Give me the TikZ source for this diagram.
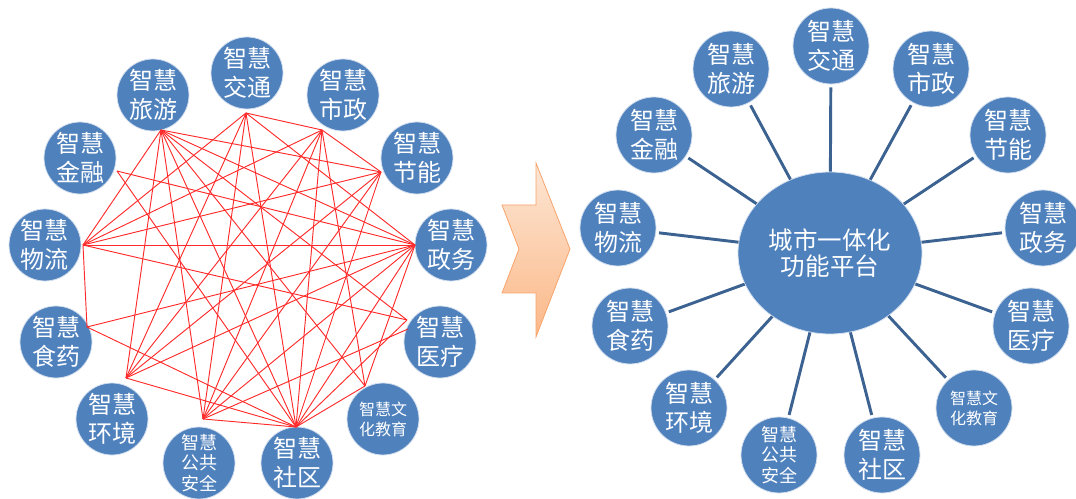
\documentclass[tikz,border=0pt]{standalone}
\usepackage{fontspec}
\newfontfamily\cjk{Noto Sans CJK SC}
\usetikzlibrary{shapes.geometric}
\definecolor{ballblue}{HTML}{4F81BD}
\definecolor{spokeblue}{HTML}{3B6291}
\definecolor{webred}{HTML}{FF2A2A}
\definecolor{arrowedge}{HTML}{F7A46C}
\definecolor{arrowtop}{HTML}{FDE6D4}
\definecolor{arrowbot}{HTML}{FBB888}
\tikzset{
  ball/.style={circle, fill=ballblue, draw=white!75!ballblue, line width=0.6pt,
    minimum size=54pt, inner sep=0pt, text=white, align=center,
    font=\cjk\fontsize{18}{21.5}\selectfont},
  bigball/.style={ball, minimum size=57pt, outer sep=2.5pt},
  smallfont/.style={font=\cjk\fontsize{13.5}{15.5}\selectfont},
  tinyfont/.style={font=\cjk\fontsize{12}{15}\selectfont},
  hub/.style={ellipse, fill=ballblue, draw=white!75!ballblue, line width=0.6pt,
    minimum width=138pt, minimum height=121.5pt, inner sep=0pt, text=white,
    align=center, font=\cjk\fontsize{18.4}{20}\selectfont},
  spoke/.style={draw=spokeblue, line width=2.2pt},
  web/.style={draw=webred, line width=0.7pt}
}
\begin{document}
\begin{tikzpicture}[x=0.75pt, y=-0.75pt]
\useasboundingbox (0,0) rectangle (1076,499);

% left: every field wired to the others
\node[ball] (jiaotong) at (247,73) {智慧\\交通};
\node[ball] (lvyou) at (153,95) {智慧\\旅游};
\node[ball] (shizheng) at (343,95) {智慧\\市政};
\node[ball] (jinrong) at (80,158) {智慧\\金融};
\node[ball] (jieneng) at (417,158) {智慧\\节能};
\node[ball] (wuliu) at (45,245) {智慧\\物流};
\node[ball] (zhengwu) at (451,245) {智慧\\政务};
\node[ball] (shiyao) at (56,342) {智慧\\食药};
\node[ball] (yiliao) at (440,342) {智慧\\医疗};
\node[ball] (huanjing) at (112,419) {智慧\\环境};
\node[ball, tinyfont] (wenhua) at (383,419) {智慧文\\化教育};
\node[ball, smallfont] (gonggong) at (199,463) {智慧\\公共\\安全};
\node[ball] (shequ) at (297,463) {智慧\\社区};

\coordinate (lvyou-p) at (161,130);
\coordinate (jiaotong-p) at (246,113);
\coordinate (shizheng-p) at (322,130);
\coordinate (jinrong-p) at (117,171);
\coordinate (jieneng-p) at (381,172);
\coordinate (wuliu-p) at (83,245);
\coordinate (zhengwu-p) at (415,245);
\coordinate (shiyao-p) at (87,327);
\coordinate (yiliao-p) at (407,320);
\coordinate (yiliao-q) at (408,329);
\coordinate (huanjing-p) at (126,378);
\coordinate (wenhua-p) at (365,386);
\coordinate (gonggong-p) at (203,419);
\coordinate (shequ-p) at (296,427);

\foreach \a/\b in {lvyou/jieneng, lvyou/zhengwu, lvyou/yiliao, lvyou/wenhua,
    lvyou/shequ, lvyou/gonggong, lvyou/huanjing, lvyou/wuliu,
    jiaotong/shizheng, jiaotong/wuliu, jiaotong/gonggong, jiaotong/shequ,
    jiaotong/zhengwu, jiaotong/huanjing,
    shizheng/jieneng, shizheng/wuliu, shizheng/gonggong, shizheng/shequ,
    shizheng/huanjing, shizheng/wenhua,
    jinrong/zhengwu, jinrong/shequ,
    jieneng/wuliu, jieneng/huanjing, jieneng/gonggong, jieneng/shequ,
    wuliu/zhengwu, wuliu/shiyao, wuliu/yiliao,
    zhengwu/shiyao, zhengwu/huanjing, zhengwu/gonggong, zhengwu/shequ,
    zhengwu/wenhua, shiyao/shequ, yiliao/shequ, huanjing/shequ,
    wenhua/shequ, gonggong/shequ}
  \draw[web] (\a-p) -- (\b-p);
\draw[web] (gonggong-p) -- (yiliao-q);

% arrow
\shadedraw[top color=arrowtop, bottom color=arrowbot, draw=arrowedge, line width=0.6pt]
  (536,163) -- (570,249) -- (536,337) -- (536,293) -- (502,293) -- (519,249)
  -- (502,205) -- (536,205) -- cycle;

% right: one platform in the middle
\node[hub] (hub) at (830,253) {城市一体化\\功能平台};
\node[bigball] (r-jiaotong) at (831,46) {智慧\\交通};
\node[bigball] (r-lvyou) at (731,69) {智慧\\旅游};
\node[bigball] (r-shizheng) at (931,69) {智慧\\市政};
\node[bigball] (r-jinrong) at (654,135) {智慧\\金融};
\node[bigball] (r-jieneng) at (1008,135) {智慧\\节能};
\node[bigball] (r-wuliu) at (618,228) {智慧\\物流};
\node[bigball] (r-zhengwu) at (1043,228) {智慧\\政务};
\node[bigball] (r-shiyao) at (630,326) {智慧\\食药};
\node[bigball] (r-yiliao) at (1031,326) {智慧\\医疗};
\node[bigball] (r-huanjing) at (689,408) {智慧\\环境};
\node[bigball, tinyfont] (r-wenhua) at (974,408) {智慧文\\化教育};
\node[bigball, smallfont] (r-gonggong) at (779,455) {智慧\\公共\\安全};
\node[bigball] (r-shequ) at (882,455) {智慧\\社区};

\foreach \n in {jiaotong, lvyou, shizheng, jinrong, jieneng, wuliu, zhengwu,
    shiyao, yiliao, huanjing, wenhua, gonggong, shequ}
  \draw[spoke] (r-\n) -- (hub);
\end{tikzpicture}
\end{document}
